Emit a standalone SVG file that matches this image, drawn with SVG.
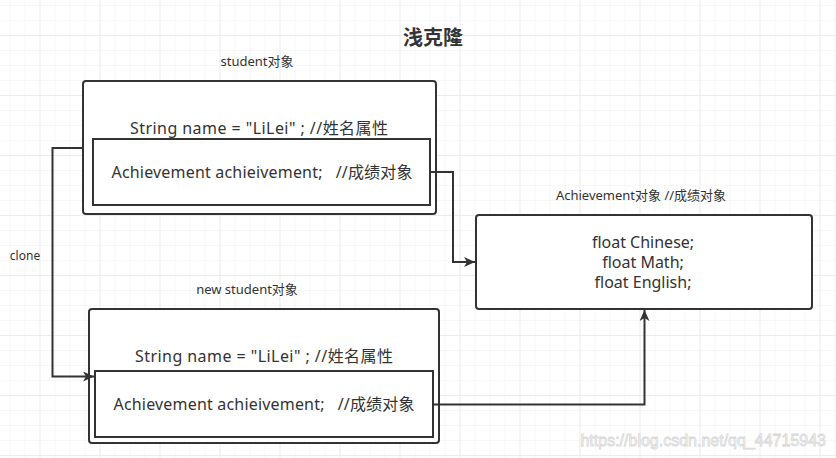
<svg xmlns="http://www.w3.org/2000/svg" width="836" height="458" viewBox="0 0 836 458">
<defs>
<pattern id="gminor" x="9.5" y="5" width="15" height="15" patternUnits="userSpaceOnUse">
<path d="M0 0H15M0 0V15" fill="none" stroke="#efefef" stroke-width="1"/>
</pattern>
<pattern id="gmajor" x="39.5" y="35" width="60" height="60" patternUnits="userSpaceOnUse">
<path d="M0 0H60M0 0V60" fill="none" stroke="#e2e2e2" stroke-width="1"/>
</pattern>
<marker id="arr" markerUnits="userSpaceOnUse" markerWidth="12" markerHeight="10" refX="11" refY="5" orient="auto">
<path d="M0 0L11 5L0 10L3 5Z" fill="#333"/>
</marker>
</defs>
<style>
text{font-family:"Noto Sans","Noto Sans CJK SC",sans-serif;fill:#333;}
.t15{font-size:16px;text-anchor:middle;}
.t12{font-size:13px;text-anchor:middle;}
.box{fill:#fff;stroke:#333;stroke-width:2;}
.conn{fill:none;stroke:#333;stroke-width:2;}
</style>
<rect width="836" height="458" fill="#fff"/>
<rect width="836" height="458" fill="url(#gminor)"/>
<rect width="836" height="458" fill="url(#gmajor)"/>

<g id="title">
<text x="433" y="45" style="font-family:'Noto Sans CJK SC',sans-serif;font-size:20px;font-weight:bold;text-anchor:middle">浅克隆</text>
</g>

<g id="student">
<text class="t12" x="257" y="66">student对象</text>
<rect class="box" x="83" y="81" width="353" height="133" rx="3"/>
<text class="t15" x="259" y="134" textLength="258">String name = "LiLei" ;  //姓名属性</text>
<rect class="box" x="93" y="139" width="337" height="66"/>
<text class="t15" x="262" y="178" xml:space="preserve" textLength="301">Achievement achieivement;   //成绩对象</text>
</g>

<g id="new-student">
<text class="t12" x="247" y="294">new student对象</text>
<rect class="box" x="89" y="309" width="350" height="134" rx="3"/>
<text class="t15" x="264" y="362" textLength="258">String name = "LiLei" ;  //姓名属性</text>
<rect class="box" x="95" y="371" width="338" height="66"/>
<text class="t15" x="264" y="410" xml:space="preserve" textLength="301">Achievement achieivement;   //成绩对象</text>
</g>

<g id="achievement">
<text class="t12" x="641" y="200">Achievement对象 //成绩对象</text>
<rect class="box" x="476" y="215" width="336" height="94" rx="3"/>
<text class="t15" x="643" y="248">float Chinese;</text>
<text class="t15" x="643" y="268">float Math;</text>
<text class="t15" x="643" y="288">float English;</text>
</g>

<g id="connectors">
<path class="conn" d="M83 148H52.5V376.5H94" marker-end="url(#arr)"/>
<path class="conn" d="M430 172H453V262H475" marker-end="url(#arr)"/>
<path class="conn" d="M433 404.5H644.5V310" marker-end="url(#arr)"/>
<text x="25" y="260" style="font-size:12px;text-anchor:middle">clone</text>
</g>

<g id="watermark">
<text x="826" y="446" style="font-family:'Liberation Sans',sans-serif;font-size:16px;text-anchor:end;fill:#fff;stroke:#d6d6d6;stroke-width:0.8">https://blog.csdn.net/qq_44715943</text>
</g>
</svg>
